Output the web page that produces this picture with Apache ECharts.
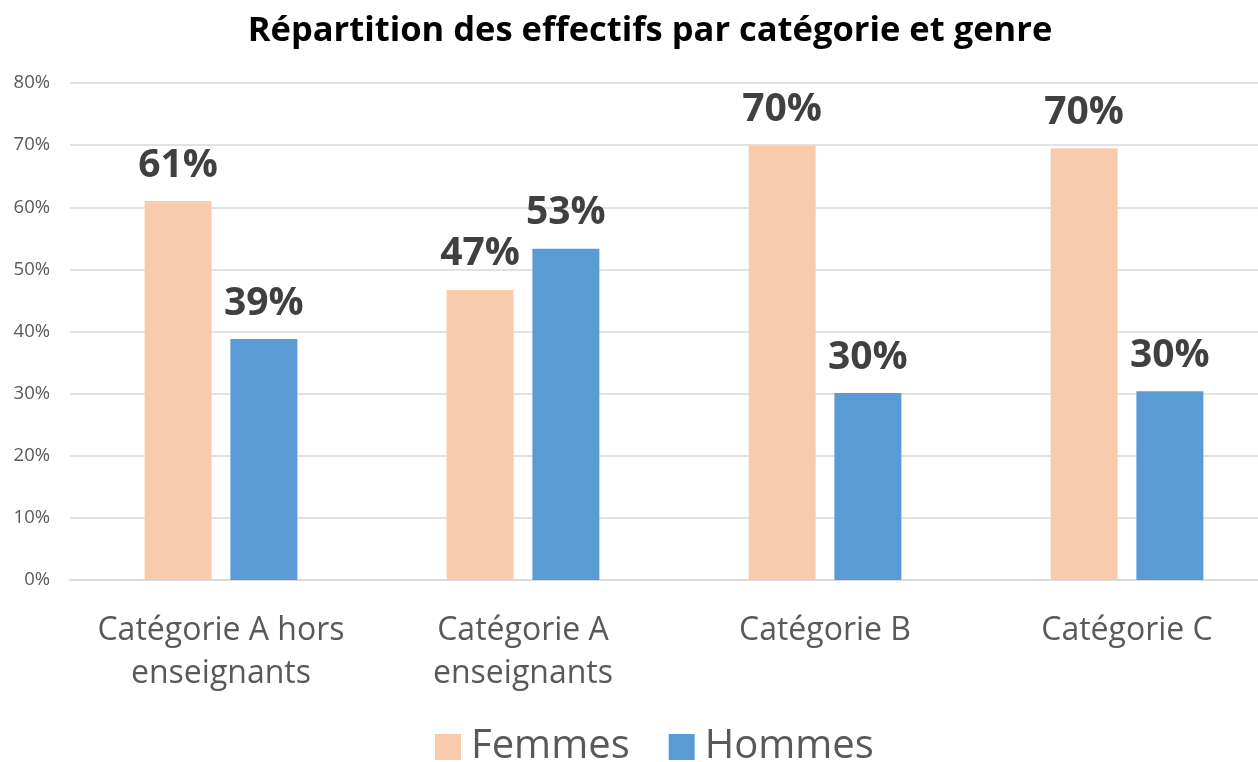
<!DOCTYPE html>
<html>
<head>
<meta charset="utf-8">
<script src="https://cdn.jsdelivr.net/npm/echarts@6/dist/echarts.min.js"></script>
<style>
  html, body { margin: 0; padding: 0; background: #fff; overflow: hidden; }
  #chart { width: 1300px; height: 762px; }
</style>
</head>
<body>
<div id="chart"></div>
<script>
// données
const categories = ['Catégorie A hors\nenseignants', 'Catégorie A\nenseignants', 'Catégorie B', 'Catégorie C']
const femmes = [61.0, 46.7, 69.9, 69.5]
const hommes = [38.8, 53.3, 30.1, 30.4]
const yTicks = [0, 10, 20, 30, 40, 50, 60, 70, 80]

const font = '"Open Sans", sans-serif'

const myCharts = echarts.init(document.getElementById('chart'))

const labelStyle = {
  show: true,
  position: 'top',
  distance: 16,
  color: '#404040',
  fontFamily: font,
  fontWeight: 'bold',
  fontSize: 39,
  formatter: p => Math.round(p.value) + '%'
}

const option = {
  backgroundColor: '#fff',
  animation: false,
  title: {
    text: 'Répartition des effectifs par catégorie et genre',
    left: 'center',
    top: 9,
    textStyle: { fontFamily: font, fontWeight: 'bold', fontSize: 34.5, color: '#000' }
  },
  legend: {
    top: 722,
    left: 430,
    itemWidth: 26,
    itemHeight: 26,
    itemGap: 39,
    icon: 'rect',
    textStyle: { fontFamily: font, fontSize: 40, color: '#595959', padding: [0, 0, 0, 5] },
    data: ['Femmes', 'Hommes']
  },
  grid: { left: 70, right: 22, top: 83, bottom: 182 },
  xAxis: {
    type: 'category',
    data: categories,
    axisTick: { show: false },
    axisLine: { lineStyle: { color: '#D9D9D9', width: 1.5 } },
    axisLabel: {
      color: '#595959', fontFamily: font, fontSize: 32, lineHeight: 43, margin: 29,
      interval: 0
    }
  },
  yAxis: {
    type: 'value',
    min: yTicks[0],
    max: yTicks[yTicks.length - 1],
    interval: 10,
    axisLabel: {
      color: '#595959', fontFamily: font, fontSize: 18.5, margin: 20,
      formatter: v => v + '%'
    },
    splitLine: { lineStyle: { color: '#D9D9D9', width: 1.5 } }
  },
  series: [
    {
      name: 'Femmes', type: 'bar', data: femmes,
      barWidth: 67, barGap: '28%', barCategoryGap: '49%',
      itemStyle: { color: '#F8CBAD' },
      label: labelStyle
    },
    {
      name: 'Hommes', type: 'bar', data: hommes,
      barWidth: 67,
      itemStyle: { color: '#5B9BD5' },
      label: labelStyle
    }
  ]
}

myCharts.setOption(option)
window.addEventListener('resize', myCharts.resize)
</script>
</body>
</html>
